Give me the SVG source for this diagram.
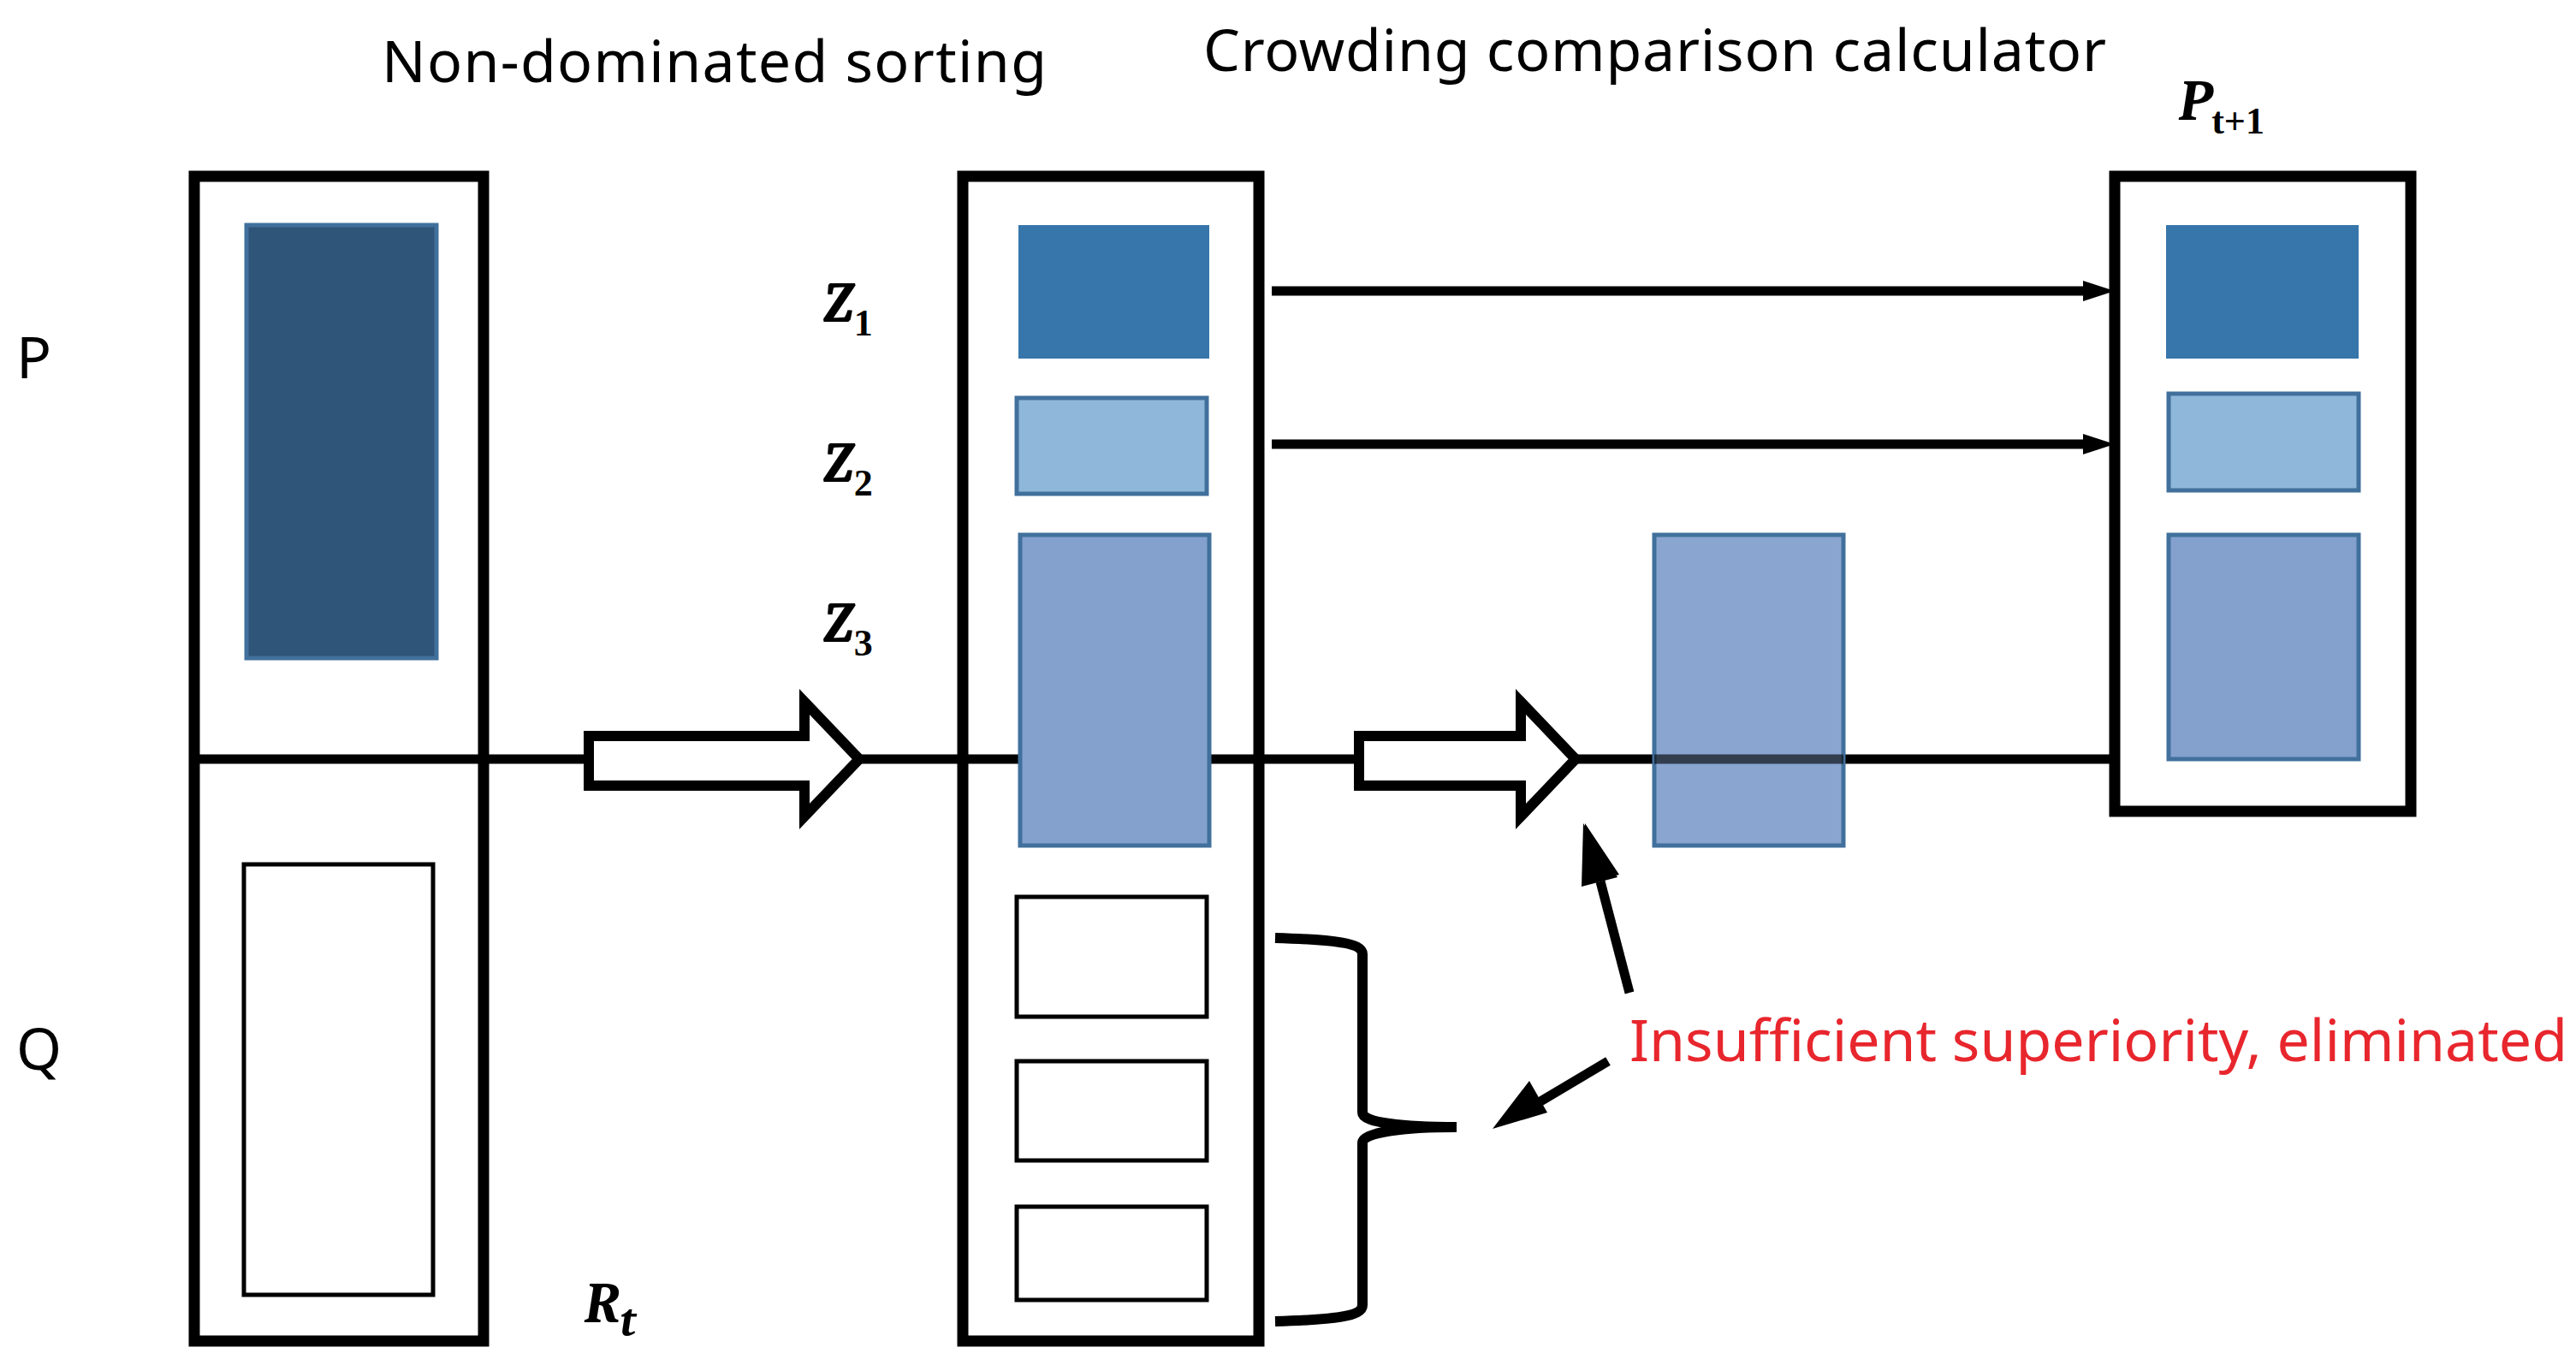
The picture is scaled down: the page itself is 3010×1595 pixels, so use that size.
<svg xmlns="http://www.w3.org/2000/svg" width="3010" height="1595" viewBox="0 0 3010 1595">
<style>
.box{fill:#fff;stroke:#000;stroke-width:13}
.w{fill:#fff;stroke:#000;stroke-width:5}
.ln{stroke:#000;stroke-width:11;fill:none}
.t{font-family:"Noto Sans","Liberation Sans",sans-serif;font-size:68px;fill:#000}
.m{font-family:"Cambria","Liberation Serif",serif;font-style:italic;font-weight:bold;font-size:66px}
.s{font-family:"Liberation Serif",serif;font-weight:bold;font-size:44px;font-style:normal}
.b1{fill:#3776AB}
.b2{fill:#8EB7D9;stroke:#41709C;stroke-width:5}
.b3{fill:#84A1CE;stroke:#41709C;stroke-width:5}
</style>
<defs>
<marker id="ah" markerWidth="6" markerHeight="6" refX="5" refY="3" orient="auto" markerUnits="userSpaceOnUse" viewBox="0 0 6 6"><path d="M0,0L6,3L0,6z"/></marker>
</defs>
<rect width="3010" height="1595" fill="#fff"/>
<g id="rt">
<rect class="box" x="227" y="206" width="338" height="1361"/>
<rect x="288" y="263" width="222" height="506" fill="#2F5579" stroke="#41709C" stroke-width="5"/>
<rect class="w" x="285" y="1010" width="221" height="503"/>
</g>
<g id="mid">
<rect class="box" x="1125" y="206" width="346" height="1361"/>
<rect class="b1" x="1190" y="263" width="223" height="156"/>
<rect class="b2" x="1188" y="465" width="222" height="112"/>
<rect class="w" x="1188" y="1048" width="222" height="140"/>
<rect class="w" x="1188" y="1240" width="222" height="116"/>
<rect class="w" x="1188" y="1410" width="222" height="109"/>
</g>
<g id="pt1">
<rect class="box" x="2471" y="206" width="346" height="742"/>
<rect class="b1" x="2531" y="263" width="225" height="156"/>
<rect class="b2" x="2534" y="460" width="222" height="113"/>
<rect class="b3" x="2534" y="625" width="222" height="262"/>
</g>
<g id="connectors">
<line class="ln" x1="227" y1="887" x2="2471" y2="887"/>
<rect class="b3" x="1192" y="625" width="221" height="363"/>
<rect class="b3" x="1933" y="625" width="221" height="363" fill-opacity="0.95"/>
<line class="ln" x1="1933" y1="887" x2="2154" y2="887" stroke-opacity="0.6"/>
<path d="M688,860H940V820L1004,887L940,954V918H688Z" fill="#fff" stroke="#000" stroke-width="12"/>
<path d="M1588,860H1777V820L1841,887L1777,954V918H1588Z" fill="#fff" stroke="#000" stroke-width="12"/>
<line class="ln" x1="1486" y1="340" x2="2440" y2="340"/>
<path d="M2434,328L2471,340L2434,352Z"/>
<line class="ln" x1="1486" y1="519" x2="2440" y2="519"/>
<path d="M2434,507L2471,519L2434,531Z"/>
<path d="M1490,1096C1560,1098 1592,1102 1592,1115V1300C1592,1312 1640,1317 1702,1317M1490,1544C1560,1542 1592,1538 1592,1525V1335C1592,1323 1640,1317 1702,1317" fill="none" stroke="#000" stroke-width="12"/>
<line class="ln" x1="1904" y1="1160" x2="1870" y2="1030"/>
<path d="M1852,962L1892,1022L1852,1032Z" transform="rotate(0)"/>
<path d="M1850,962L1890,1025L1848,1036Z"/>
<line class="ln" x1="1879" y1="1240" x2="1800" y2="1287"/>
<path d="M1744,1319L1787,1263L1808,1300Z"/>
</g>
<g id="labels">
<text class="t" x="446" y="96" textLength="777">Non-dominated sorting</text>
<text class="t" x="1406" y="83" textLength="1055">Crowding comparison calculator</text>
<text class="t" x="19" y="442">P</text>
<text class="t" x="19" y="1250">Q</text>
<text class="t" x="1904" y="1240" fill="#E8262D" style="fill:#E8262D" textLength="1096">Insufficient superiority, eliminated</text>
<text class="m" x="962" y="376">Z<tspan class="s" dy="16">1</tspan></text>
<text class="m" x="962" y="563">Z<tspan class="s" dy="16">2</tspan></text>
<text class="m" x="962" y="750">Z<tspan class="s" dy="16">3</tspan></text>
<text class="m" x="683" y="1545">R<tspan class="m" style="font-size:52px" dy="16">t</tspan></text>
<text class="m" x="2546" y="140">P<tspan class="s" dy="16">t+1</tspan></text>
</g>
</svg>
